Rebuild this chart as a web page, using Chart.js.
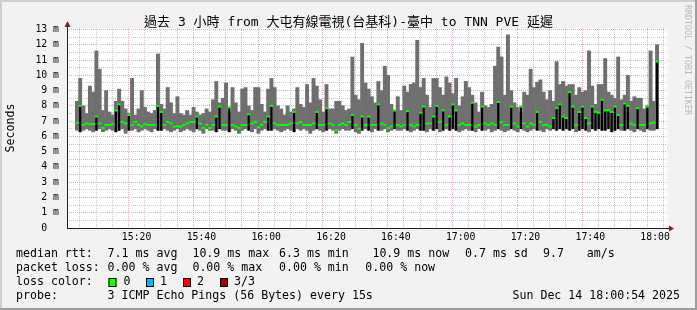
<!DOCTYPE html>
<html>
<head>
<meta charset="utf-8">
<script src="https://cdn.jsdelivr.net/npm/chart.js@4/dist/chart.umd.min.js"></script>
<style>
  html, body { margin: 0; padding: 0; background: #f2f2f2; }
</style>
</head>
<body>
<canvas id="chart" width="697" height="310"></canvas>
<script>
// minutes after 15:00 where the graph starts (3 hour window)
const START_MIN = 1.1
const END_MIN = 181.1

// one sample per minute, in ms
const maxRtt = [
    8.3, 9.8, 8.0, 7.5, 9.3, 8.9, 11.6, 10.4, 7.7, 9.0,
    7.6, 7.4, 8.3, 9.1, 8.3, 7.8, 7.5, 9.8, 7.4, 7.8,
    9.0, 7.9, 7.6, 7.5, 7.7, 11.4, 8.1, 7.8, 9.2, 8.2,
    7.5, 8.6, 7.5, 7.4, 7.7, 7.4, 7.9, 7.6, 7.4, 7.5,
    7.8, 7.6, 8.4, 9.6, 8.2, 8.5, 9.5, 7.6, 9.2, 8.2,
    7.6, 9.1, 9.2, 8.0, 7.7, 9.2, 9.2, 8.1, 7.6, 9.1,
    9.8, 9.2, 8.0, 7.8, 7.4, 8.0, 7.6, 7.8, 9.2, 8.1,
    7.9, 9.4, 8.2, 9.8, 9.3, 8.4, 7.6, 9.4, 7.8, 7.8,
    8.3, 8.3, 8.0, 7.7, 7.8, 11.2, 8.7, 8.4, 12.1, 9.5,
    9.1, 8.6, 8.2, 9.6, 9.0, 10.6, 10.0, 8.1, 7.6, 8.6,
    7.7, 9.3, 8.9, 9.4, 9.5, 12.3, 9.2, 9.8, 8.7, 7.9,
    9.8, 9.8, 9.2, 8.7, 9.9, 9.5, 8.8, 9.8, 8.0, 8.6,
    9.6, 9.2, 8.7, 8.2, 7.6, 8.9, 8.0, 7.9, 8.1, 10.6,
    11.85, 11.2, 8.7, 12.65, 9.0, 8.2, 7.9, 7.6, 8.9, 8.7,
    10.4, 9.2, 9.55, 9.7, 8.9, 8.4, 9.0, 8.3, 10.9, 9.4,
    9.6, 9.3, 9.4, 9.4, 8.7, 9.2, 8.9, 9.0, 11.6, 9.3,
    8.1, 9.4, 9.4, 11.1, 8.9, 8.7, 8.5, 11.2, 8.4, 8.7,
    10.0, 8.3, 8.6, 8.5, 8.5, 7.8, 8.0, 11.6, 8.3, 12.0
]

const minRtt = [
    6.4, 6.3, 6.4, 6.5, 6.4, 6.3, 6.4, 6.5, 6.3, 6.4,
    6.5, 6.4, 6.3, 6.4, 6.5, 6.2, 6.4, 6.4, 6.5, 6.3,
    6.4, 6.5, 6.4, 6.3, 6.5, 6.4, 6.4, 6.5, 6.4, 6.3,
    6.4, 6.5, 6.3, 6.4, 6.5, 6.4, 6.3, 6.5, 6.4, 6.2,
    6.5, 6.4, 6.4, 6.3, 6.5, 6.4, 6.4, 6.3, 6.5, 6.4,
    6.2, 6.4, 6.5, 6.4, 6.3, 6.5, 6.2, 6.4, 6.5, 6.4,
    6.4, 6.5, 6.4, 6.3, 6.4, 6.5, 6.4, 6.3, 6.5, 6.4,
    6.5, 6.4, 6.2, 6.4, 6.5, 6.4, 6.3, 6.4, 6.5, 6.4,
    6.2, 6.4, 6.5, 6.4, 6.4, 6.5, 6.3, 6.2, 6.4, 6.5,
    6.4, 6.3, 6.5, 6.4, 6.4, 6.5, 6.3, 6.4, 6.5, 6.4,
    6.4, 6.5, 6.4, 6.3, 6.4, 6.5, 6.4, 6.4, 6.3, 6.5,
    6.4, 6.5, 6.3, 6.4, 6.5, 6.4, 6.5, 6.4, 6.3, 6.4,
    6.5, 6.4, 6.4, 6.3, 6.5, 6.4, 6.4, 6.5, 6.3, 6.4,
    6.5, 6.4, 6.3, 6.4, 6.5, 6.4, 6.3, 6.5, 6.4, 6.3,
    6.4, 6.5, 6.4, 6.4, 6.3, 6.5, 6.4, 6.5, 6.4, 6.5,
    6.4, 6.5, 6.4, 6.5, 6.3, 6.4, 6.5, 6.4, 6.3, 6.5,
    6.4, 6.5, 6.4, 6.4, 6.5, 6.3, 6.4, 6.5, 6.4, 6.4,
    6.5, 6.4, 6.3, 6.5, 6.4, 6.3, 6.5, 6.4, 6.4, 6.5
]

const medianRtt = [
    6.9, 8.0, 6.75, 6.85, 6.8, 6.8, 7.3, 6.85, 6.55, 6.75,
    6.75, 6.8, 7.7, 8.1, 6.95, 6.85, 7.4, 6.75, 6.95, 6.75,
    6.65, 6.8, 6.75, 6.75, 6.75, 8.0, 7.6, 6.75, 6.95, 6.85,
    6.65, 6.65, 6.65, 6.75, 6.85, 6.95, 6.95, 7.3, 6.85, 6.55,
    6.75, 6.55, 6.75, 7.3, 7.95, 6.75, 6.75, 7.9, 6.75, 6.65,
    6.55, 6.75, 6.75, 7.45, 6.85, 6.95, 6.6, 6.75, 6.95, 7.3,
    8.0, 6.85, 6.75, 6.75, 6.75, 6.75, 6.85, 7.6, 6.85, 6.95,
    6.75, 6.75, 6.75, 6.85, 7.6, 6.75, 6.75, 7.85, 6.85, 6.75,
    6.4, 6.75, 6.85, 6.75, 6.95, 7.4, 6.75, 6.5, 7.3, 6.75,
    7.3, 6.75, 6.75, 8.1, 6.85, 6.75, 6.55, 6.65, 7.7, 6.75,
    6.65, 6.75, 7.65, 6.75, 6.65, 6.75, 7.55, 7.95, 6.85, 6.85,
    7.3, 8.0, 6.95, 7.7, 6.75, 7.3, 8.1, 7.7, 6.75, 6.85,
    6.75, 6.75, 8.2, 6.65, 6.75, 7.95, 6.85, 6.75, 6.85, 6.75,
    8.25, 6.95, 6.75, 6.75, 7.95, 6.85, 6.65, 7.95, 6.85, 6.65,
    6.85, 6.75, 7.6, 6.95, 6.75, 6.75, 6.65, 7.2, 7.85, 8.1,
    7.3, 7.2, 8.9, 7.95, 6.75, 7.6, 7.95, 7.2, 6.85, 7.95,
    7.6, 7.55, 8.4, 7.7, 7.7, 7.6, 7.95, 7.4, 6.75, 8.15,
    8.0, 6.85, 6.75, 7.85, 6.75, 6.75, 7.95, 6.85, 6.9, 10.9
]

const xTicks = []
for (let m = 5; m <= 180; m += 5) xTicks.push(m)
const yTicks = []
for (let v = 0; v <= 13; v += 0.5) yTicks.push(v)

const TITLE = '過去 3 小時 from 大屯有線電視(台基科)-臺中 to TNN PVE 延遲'
const MONO = '"DejaVu Sans Mono", "Noto Sans CJK TC", monospace'

const GRID = 'rgba(143, 143, 143, 0.5)'
const MGRID = 'rgba(222, 79, 79, 0.5)'

function minuteAt(i) {
    return START_MIN + i + 0.5
}

function timeLabel(v) {
    const h = 15 + Math.floor(v / 60)
    const m = v % 60
    return h + ':' + (m < 10 ? '0' : '') + m
}

const smoke = maxRtt.map((v, i) => ({ x: minuteAt(i), y: [minRtt[i], v] }))
const dark = medianRtt.map((v, i) => ({ x: minuteAt(i), y: v > 7.15 ? [minRtt[i], v] : null }))
const median = medianRtt.map((v, i) => ({ x: minuteAt(i), y: v }))

const frame = {
    id: 'frame',
    beforeDraw(chart) {
        const ctx = chart.ctx
        const a = chart.chartArea
        ctx.save()
        ctx.fillStyle = '#f2f2f2'
        ctx.fillRect(0, 0, chart.width, chart.height)
        ctx.fillStyle = '#cfcfcf'
        ctx.fillRect(0, 0, chart.width, 2)
        ctx.fillRect(0, 0, 2, chart.height)
        ctx.fillStyle = '#9e9e9e'
        ctx.fillRect(0, chart.height - 2, chart.width, 2)
        ctx.fillRect(chart.width - 2, 0, 2, chart.height)
        ctx.fillStyle = '#ffffff'
        ctx.fillRect(a.left, a.top, a.right - a.left, a.bottom - a.top)
        ctx.restore()
    },
    afterDraw(chart) {
        const ctx = chart.ctx
        const a = chart.chartArea
        ctx.save()

        // axes with arrows
        ctx.strokeStyle = '#1f1f1f'
        ctx.lineWidth = 1
        ctx.beginPath()
        ctx.moveTo(a.left + 0.5, a.bottom + 0.5)
        ctx.lineTo(a.left + 0.5, a.top - 4)
        ctx.moveTo(a.left, a.bottom + 0.5)
        ctx.lineTo(a.right + 3, a.bottom + 0.5)
        ctx.stroke()
        ctx.fillStyle = '#801f1f'
        ctx.beginPath()
        ctx.moveTo(a.left + 0.5, a.top - 7)
        ctx.lineTo(a.left - 2.5, a.top - 1)
        ctx.lineTo(a.left + 3.5, a.top - 1)
        ctx.fill()
        ctx.beginPath()
        ctx.moveTo(a.right + 7, a.bottom + 0.5)
        ctx.lineTo(a.right + 2, a.bottom - 2.5)
        ctx.lineTo(a.right + 2, a.bottom + 3.5)
        ctx.fill()

        // title
        ctx.fillStyle = '#000'
        ctx.font = '13px ' + MONO
        ctx.textAlign = 'center'
        ctx.textBaseline = 'alphabetic'
        ctx.fillText(TITLE, chart.width / 2, 26)

        // watermark
        ctx.save()
        ctx.translate(687, 5)
        ctx.rotate(Math.PI / 2)
        ctx.fillStyle = '#b8b8b8'
        ctx.font = '8.3px ' + MONO
        ctx.textAlign = 'left'
        ctx.textBaseline = 'middle'
        ctx.fillText('RRDTOOL / TOBI OETIKER', 0, 0)
        ctx.restore()

        // legend block
        ctx.font = '11.6px ' + MONO
        ctx.textAlign = 'left'
        ctx.textBaseline = 'middle'
        const rows = [
            [254, [[16, 'median rtt:'], [107.6, '7.1 ms avg'], [192.4, '10.9 ms max'], [279, '6.3 ms min'],
                [372.4, '10.9 ms now'], [465, '0.7 ms sd'], [543, '9.7'], [586.7, 'am/s']]],
            [268, [[16, 'packet loss:'], [107.6, '0.00 % avg'], [192.4, '0.00 % max'], [279, '0.00 % min'],
                [365.3, '0.00 % now']]],
            [282, [[16, 'loss color:'], [123.6, '0'], [160, '1'], [197, '2'], [234, '3/3']]],
            [296, [[16, 'probe:'], [107.6, '3 ICMP Echo Pings (56 Bytes) every 15s']]]
        ]
        rows.forEach(([y, items]) => items.forEach(([x, t]) => ctx.fillText(t, x, y)))
        ctx.textAlign = 'right'
        ctx.fillText('Sun Dec 14 18:00:54 2025', 680, 296)

        const boxes = [[108.5, '#26ff00'], [146, '#00b8ff'], [183, '#ff0000'], [220, '#a00000']]
        boxes.forEach(([x, c]) => {
            ctx.fillStyle = c
            ctx.fillRect(x, 278, 8, 9)
            ctx.strokeStyle = '#000'
            ctx.lineWidth = 1
            ctx.strokeRect(x + 0.5, 278.5, 7, 8)
        })
        ctx.restore()
    }
}

new Chart(document.getElementById('chart'), {
    type: 'bar',
    data: {
        datasets: [
            {
                type: 'line',
                data: median,
                showLine: false,
                pointStyle: 'line',
                pointRadius: 1.7,
                pointBorderWidth: 2,
                pointBorderColor: '#00ff00',
                pointBackgroundColor: '#00ff00',
                order: 0
            },
            {
                data: dark,
                backgroundColor: '#000000',
                borderWidth: 0,
                grouped: false,
                maxBarThickness: 1.5,
                categoryPercentage: 1,
                barPercentage: 1,
                order: 1
            },
            {
                data: smoke,
                backgroundColor: '#6f6f6f',
                borderWidth: 0,
                grouped: false,
                categoryPercentage: 1,
                barPercentage: 1,
                order: 2
            }
        ]
    },
    options: {
        responsive: false,
        devicePixelRatio: 1,
        animation: false,
        layout: { padding: { left: 0, top: 28, right: 30, bottom: 0 } },
        plugins: {
            legend: { display: false },
            tooltip: { enabled: false },
            title: { display: false }
        },
        scales: {
            x: {
                type: 'linear',
                min: START_MIN,
                max: END_MIN,
                afterBuildTicks: (scale) => { scale.ticks = xTicks.map(v => ({ value: v })) },
                afterFit: (scale) => { scale.height = 82 },
                ticks: {
                    autoSkip: false,
                    maxRotation: 0,
                    padding: 4,
                    color: '#000',
                    font: { family: MONO, size: 9.8 },
                    callback: (v) => v % 20 === 0 ? timeLabel(v) : ''
                },
                grid: {
                    drawTicks: false,
                    lineWidth: 1,
                    color: (c) => c.tick && c.tick.value % 20 === 0 ? MGRID : GRID
                },
                border: { display: false, dash: [1, 1] }
            },
            y: {
                type: 'linear',
                min: 0,
                max: 13.1,
                afterBuildTicks: (scale) => { scale.ticks = yTicks.map(v => ({ value: v })) },
                afterFit: (scale) => { scale.width = 67 },
                ticks: {
                    autoSkip: false,
                    padding: 8,
                    color: '#000',
                    font: { family: MONO, size: 9.8 },
                    callback: (v) => Number.isInteger(v) ? (v === 0 ? '0  ' : v + ' m') : ''
                },
                grid: {
                    drawTicks: false,
                    lineWidth: 1,
                    color: (c) => c.tick && Number.isInteger(c.tick.value) ? MGRID : GRID
                },
                border: { display: false, dash: [1, 1] },
                title: {
                    display: true,
                    text: 'Seconds',
                    color: '#000',
                    font: { family: MONO, size: 11.6 },
                    padding: { top: 4, bottom: 0 }
                }
            }
        }
    },
    plugins: [frame]
})
</script>
</body>
</html>
